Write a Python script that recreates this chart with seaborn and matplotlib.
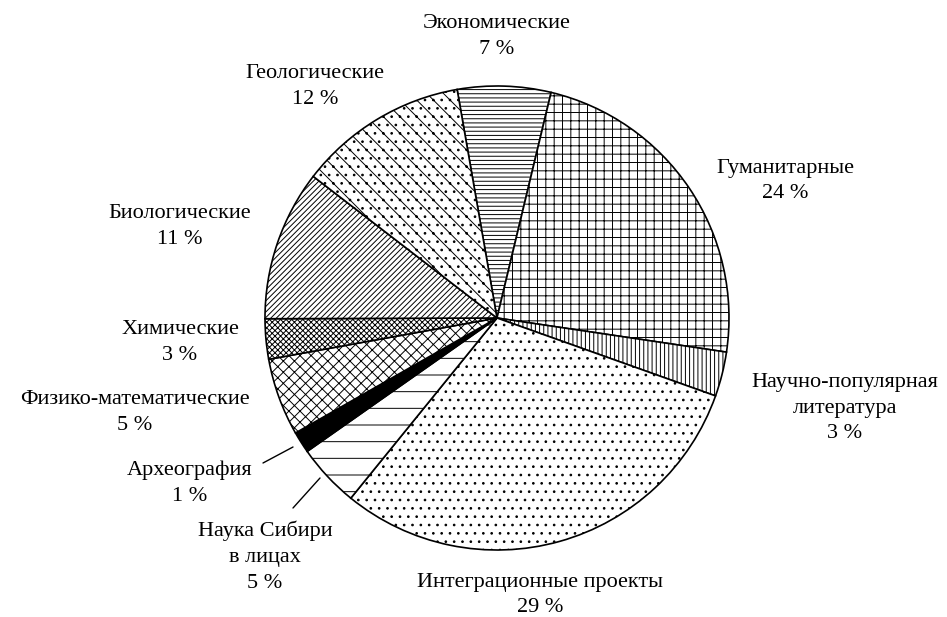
import seaborn as sns
import matplotlib as mpl
import matplotlib.pyplot as plt

sns.set_theme(style="white")
plt.rcParams['font.family'] = ['Liberation Serif', 'DejaVu Serif']
mpl.rcParams['hatch.linewidth'] = 0.7
mpl.rcParams['hatch.color'] = 'black'

# slice shares (clockwise from the top)
categories = ["Экономические", "Гуманитарные", "Научно-популярная\nлитература",
              "Интеграционные проекты", "Наука Сибири\nв лицах", "Археография",
              "Физико-математические", "Химические", "Биологические", "Геологические"]
shares = [6.5, 23.6, 3.1, 30.4, 4.4, 1.5, 5.4, 2.8, 10.5, 11.8]
pct_labels = ["7 %", "24 %", "3 %", "29 %", "5 %", "1 %", "5 %", "3 %", "11 %", "12 %"]

hatches = ['----', '++', '||||', '..', '-', '', 'xxx', 'xxxxxx', '//////', '\\\\..']
fills = ['white'] * 10
fills[5] = 'black'

# label anchor points in pixels (x, y from top)
label_xy = [(497, 36), (785, 181), (845, 408), (540, 595), (265, 557),
            (190, 483), (135, 413), (180, 343), (180, 227), (315, 86)]

W, H = 947, 617
fig = plt.figure(figsize=(W / 100, H / 100), dpi=100)
ax = fig.add_axes([0, 0, 1, 1])

wedges, _ = ax.pie(shares, center=(497, H - 318), radius=232, startangle=99.9,
                   counterclock=False, colors=fills,
                   wedgeprops=dict(edgecolor='black', linewidth=1.2))
for w, h in zip(wedges, hatches):
    w.set_hatch(h)

ax.set_xlim(0, W)
ax.set_ylim(0, H)
ax.set_aspect('equal')
ax.axis('off')

for name, pct, (x, y) in zip(categories, pct_labels, label_xy):
    ax.text(x, H - y, name + "\n" + pct, ha='center', va='center',
            fontsize=16, color='black', linespacing=1.5)

# leader lines for the small slices
ax.plot([293, 263], [H - 447, H - 463], color='black', lw=1)
ax.plot([320, 293], [H - 478, H - 508], color='black', lw=1)

fig.savefig("out.png", dpi=100, facecolor='white')
